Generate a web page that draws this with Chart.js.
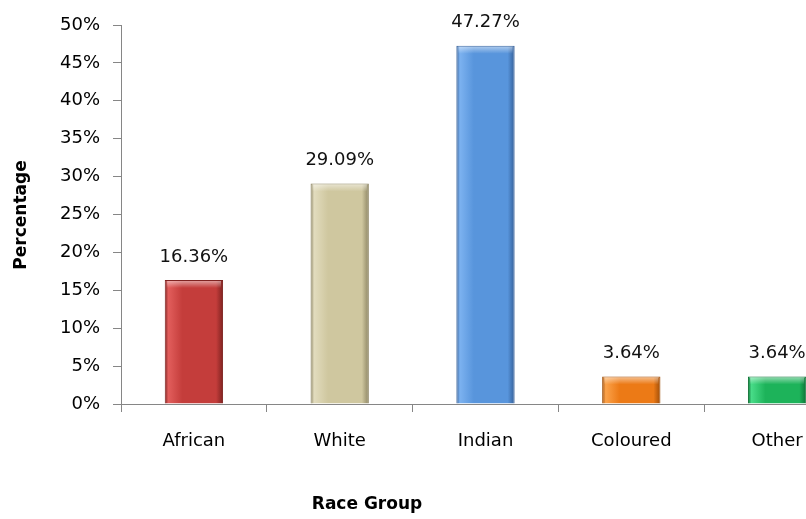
<!DOCTYPE html>
<html>
<head>
<meta charset="utf-8">
<script src="https://cdn.jsdelivr.net/npm/chart.js@4"></script>
<style>
  html, body { margin: 0; padding: 0; background: #fff; overflow: hidden; }
  #wrap { width: 852px; height: 519px; }
</style>
</head>
<body>
<div id="wrap"><canvas id="raceChart"></canvas></div>
<script>
// data
const categories = ['African', 'White', 'Indian', 'Coloured', 'Other'];
const percentages = [16.36, 29.09, 47.27, 3.64, 3.64];
const yTicks = [0, 5, 10, 15, 20, 25, 30, 35, 40, 45, 50];

// bar colours: [light, base, dark]
const barColours = [
    ['#e25e5c', '#c43d3b', '#7e2220'],
    ['#e2dcbe', '#cfc79f', '#8c8462'],
    ['#7cb2f0', '#5895dc', '#345f98'],
    ['#fba24a', '#ec7a16', '#9e4d08'],
    ['#48dc88', '#1db35a', '#0f7236']
];

const fontFace = '"DejaVu Sans", Verdana, sans-serif';
const axisGrey = '#868686';
const barPct = 0.4;

function barFill(context) {
    const chart = context.chart;
    const c = barColours[context.dataIndex];
    const xs = chart.scales.x;
    if (!chart.chartArea || !xs || !xs.width) return c[1];
    const cx = xs.getPixelForValue(context.dataIndex);
    const w = xs.width / categories.length * barPct;
    const g = chart.ctx.createLinearGradient(cx - w / 2, 0, cx + w / 2, 0);
    g.addColorStop(0, c[2]);
    g.addColorStop(0.06, c[0]);
    g.addColorStop(0.3, c[1]);
    g.addColorStop(0.88, c[1]);
    g.addColorStop(1, c[2]);
    return g;
}

// value labels above the bars + axis titles
const labelsPlugin = {
    id: 'labelsPlugin',
    afterDatasetsDraw(chart) {
        const ctx = chart.ctx;
        const meta = chart.getDatasetMeta(0);
        ctx.save();
        // top highlight of each bar
        meta.data.forEach(function(bar, i) {
            const w = bar.width;
            const g = ctx.createLinearGradient(0, bar.y, 0, bar.y + 8);
            g.addColorStop(0, 'rgba(255,255,255,0.55)');
            g.addColorStop(1, 'rgba(255,255,255,0)');
            ctx.fillStyle = g;
            ctx.fillRect(bar.x - w / 2 + 2, bar.y + 1, w - 4, Math.min(8, bar.base - bar.y - 2));
        });

        ctx.fillStyle = '#111';
        ctx.font = '18px ' + fontFace;
        ctx.textAlign = 'center';
        ctx.textBaseline = 'middle';
        meta.data.forEach(function(bar, i) {
            ctx.fillText(percentages[i].toFixed(2) + '%', bar.x, bar.y - 23);
        });

        // axis titles
        ctx.font = 'bold 17px ' + fontFace;
        ctx.fillStyle = '#000';
        ctx.fillText('Race Group', chart.chartArea.left + 246, 505);
        ctx.translate(22, 215);
        ctx.rotate(-Math.PI / 2);
        ctx.fillText('Percentage', 0, 0);
        ctx.restore();
    }
};

document.addEventListener('DOMContentLoaded', function() {
    const ctx = document.getElementById('raceChart').getContext('2d');

    new Chart(ctx, {
        type: 'bar',
        data: {
            labels: categories,
            datasets: [{
                label: 'Percentage',
                data: percentages,
                backgroundColor: barFill,
                borderColor: barColours.map(c => c[2]),
                borderWidth: 1,
                categoryPercentage: 1,
                barPercentage: barPct
            }]
        },
        options: {
            responsive: true,
            maintainAspectRatio: false,
            animation: false,
            layout: {
                padding: { left: 0, right: 2, top: 25, bottom: 0 }
            },
            scales: {
                x: {
                    afterFit: function(scale) { scale.height = 115; },
                    grid: {
                        display: true,
                        drawOnChartArea: false,
                        offset: true,
                        tickLength: 8,
                        color: axisGrey
                    },
                    border: { color: axisGrey, width: 1 },
                    ticks: {
                        padding: 19,
                        color: '#000',
                        font: { family: fontFace, size: 18 }
                    }
                },
                y: {
                    min: 0,
                    max: 50,
                    afterFit: function(scale) { scale.width = 121; },
                    afterBuildTicks: function(scale) {
                        scale.ticks = yTicks.map(v => ({ value: v }));
                    },
                    grid: {
                        display: true,
                        drawOnChartArea: false,
                        tickLength: 8,
                        color: axisGrey
                    },
                    border: { color: axisGrey, width: 1 },
                    ticks: {
                        padding: 13,
                        color: '#000',
                        font: { family: fontFace, size: 18 },
                        callback: function(v) { return v + '%'; }
                    }
                }
            },
            plugins: {
                legend: { display: false },
                tooltip: { enabled: false }
            }
        },
        plugins: [labelsPlugin]
    });
});
</script>
</body>
</html>
